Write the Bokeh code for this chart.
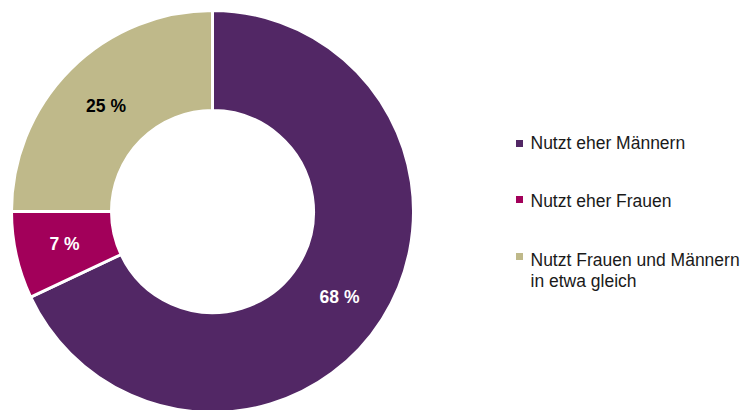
import math
from bokeh.plotting import figure
from bokeh.models import ColumnDataSource, Range1d
from bokeh.core.properties import value
from bokeh.embed import file_html
from bokeh.resources import INLINE

categories = ["Nutzt eher Männern", "Nutzt eher Frauen", "Nutzt Frauen und Männern\nin etwa gleich"]
shares = [68, 7, 25]
colors = ["#522765", "#A2005A", "#BFB98A"]
label_colors = ["white", "white", "black"]

W, H = 740, 410
FONT = "Liberation Sans"

p = figure(width=W, height=H, output_backend="svg", toolbar_location=None,
           x_range=Range1d(0, W), y_range=Range1d(0, H), min_border=0,
           outline_line_color=None)
p.axis.visible = False
p.grid.visible = False
p.background_fill_color = "white"
p.border_fill_color = "white"

cx, cy = 212, 199
r_out, r_in = 201, 101

total = sum(shares)
starts, ends = [], []
cum = 0
for s in shares:
    starts.append(math.pi / 2 - 2 * math.pi * cum / total)
    cum += s
    ends.append(math.pi / 2 - 2 * math.pi * cum / total)

src = ColumnDataSource(dict(start=starts, end=ends, color=colors))
p.annular_wedge(x=cx, y=cy, inner_radius=r_in, outer_radius=r_out,
                start_angle="start", end_angle="end", direction="clock",
                fill_color="color", line_color="white", line_width=3, source=src)

# percentage labels
texts = [f"{s} %" for s in shares]
lab_x = [339, 64, 105.5]
lab_y = [114, 167, 305]
p.text(x=lab_x, y=lab_y, text=texts, text_color=label_colors,
       text_font=value(FONT), text_font_style="bold", text_font_size="17.5px",
       text_align="center", text_baseline="alphabetic")

# legend
sq_y = [267, 211, 154]
p.scatter(x=[519] * 3, y=sq_y, marker="square", size=7,
          fill_color=colors, line_color=None)
leg_lines, leg_y = [], []
base = [268, 210, 151]
for c, b in zip(categories, base):
    for i, line in enumerate(c.split("\n")):
        leg_lines.append(line)
        leg_y.append(b - 21 * i)
p.text(x=[530] * len(leg_lines), y=leg_y, text=leg_lines, text_color="#1a1a1a",
       text_font=value(FONT), text_font_size="17.5px",
       text_align="left", text_baseline="alphabetic")

open("out.html", "w").write(file_html(p, INLINE))
